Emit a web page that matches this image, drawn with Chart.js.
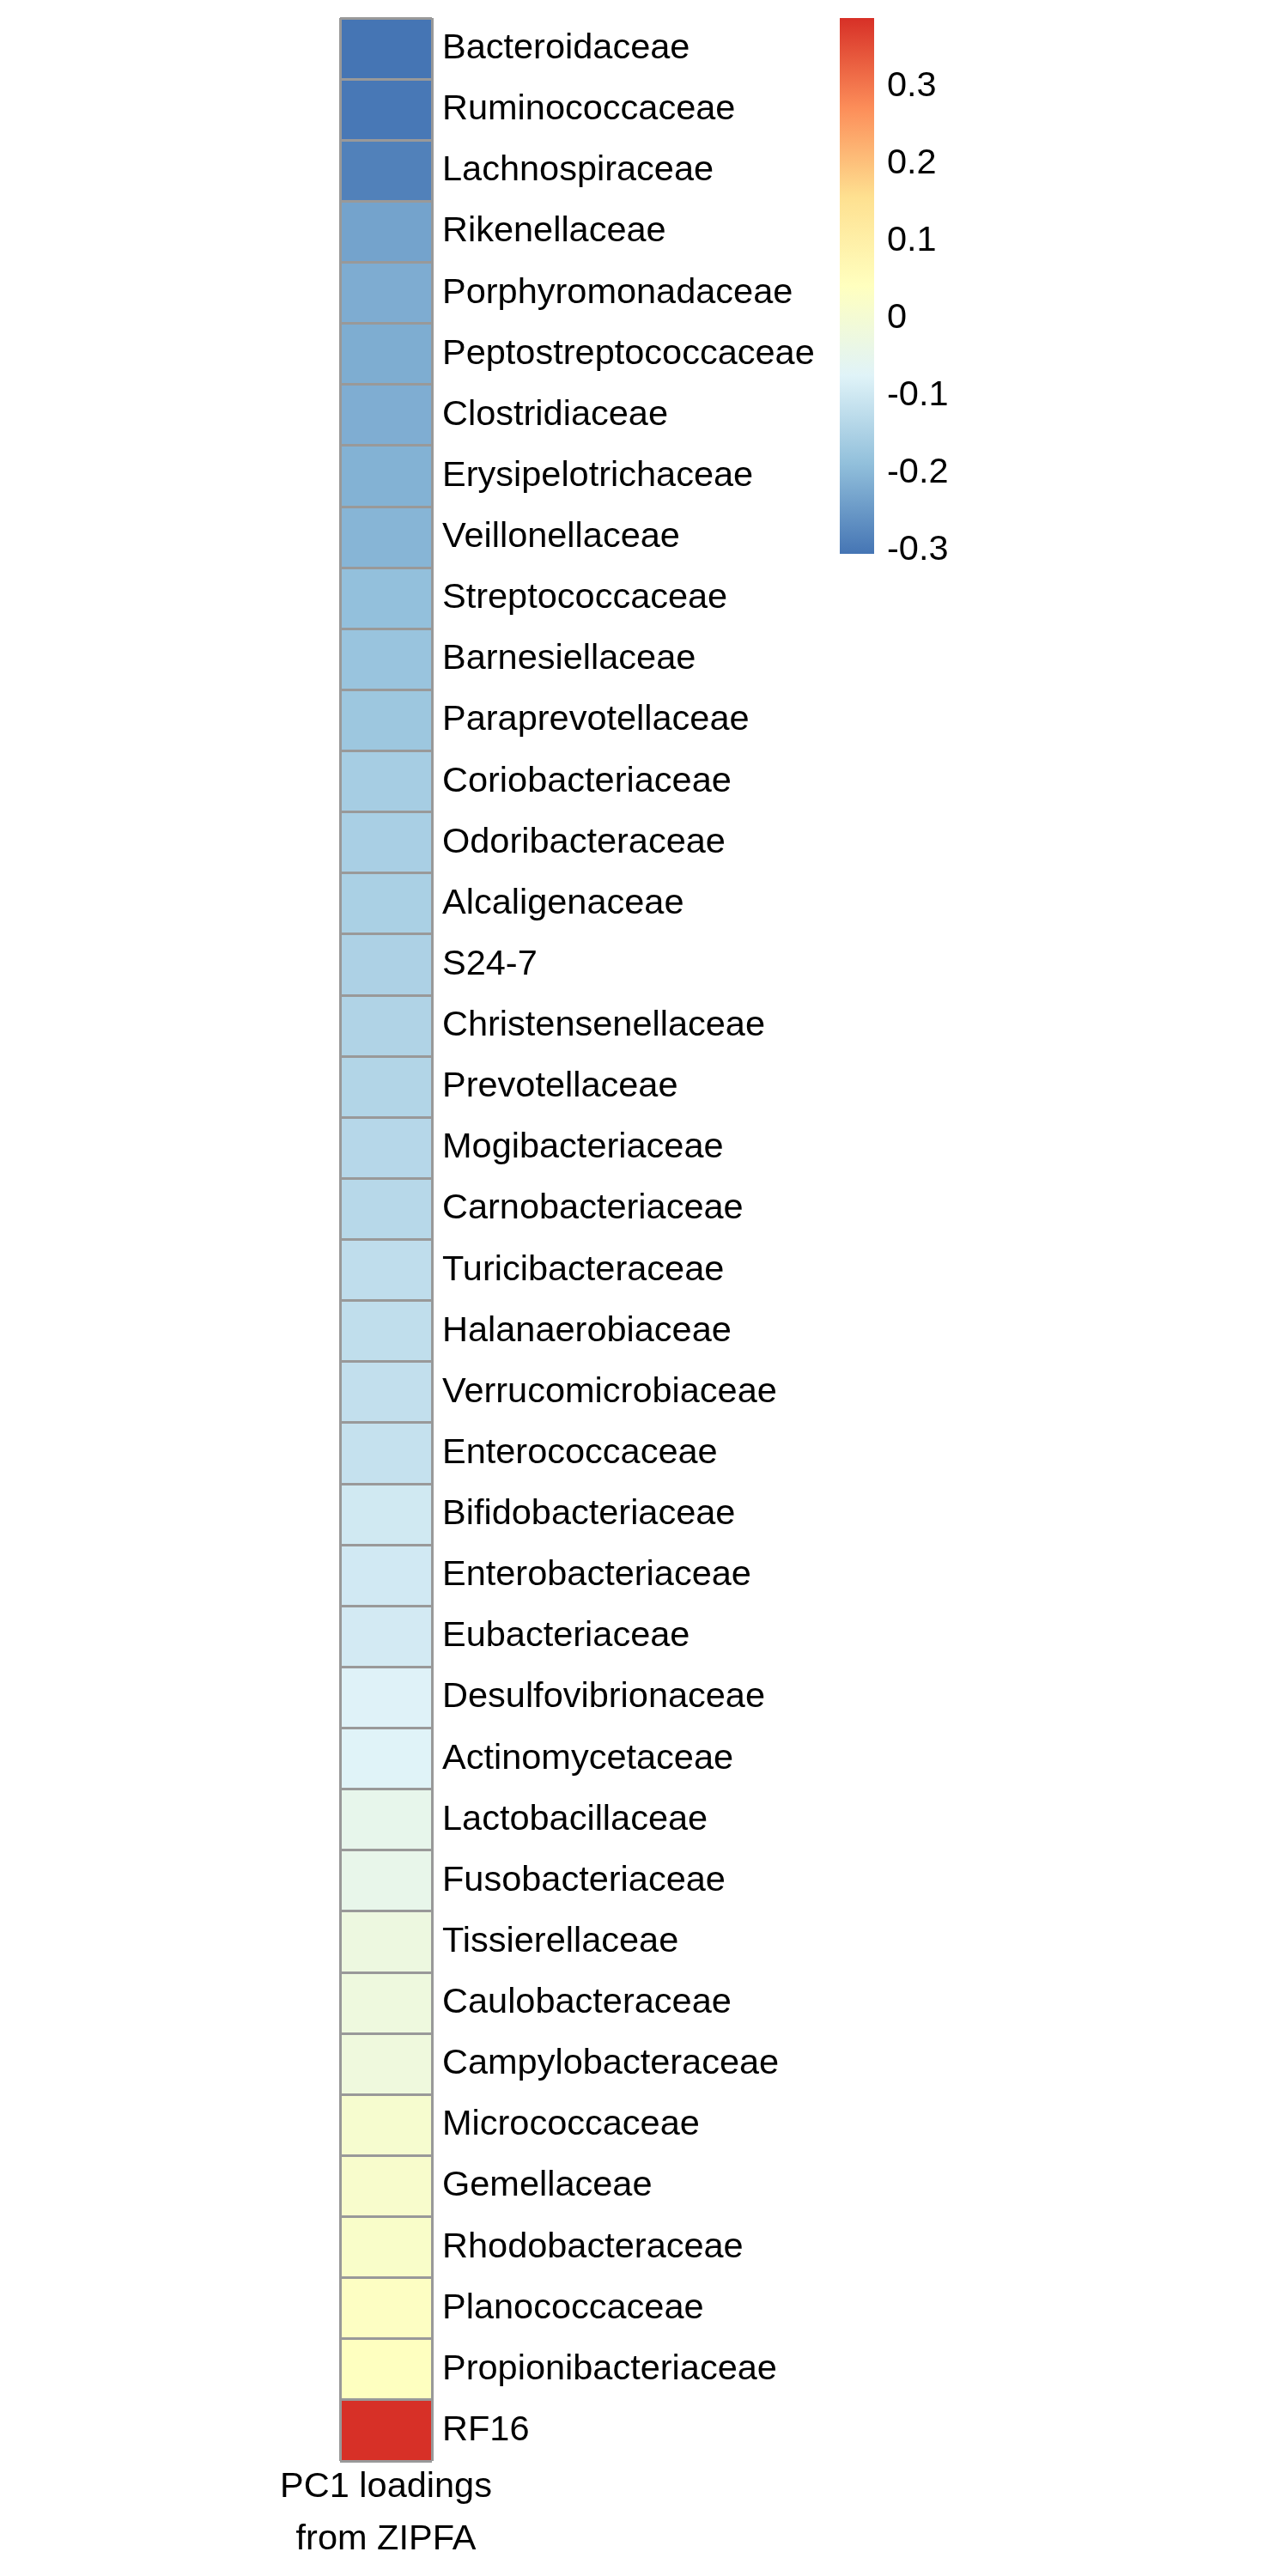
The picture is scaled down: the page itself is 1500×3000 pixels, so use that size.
<!DOCTYPE html>
<html lang="en">
<head>
    <meta charset="UTF-8">
    <title>PC1 loadings from ZIPFA</title>
    <script src="https://cdn.jsdelivr.net/npm/chart.js"></script>
    <style>
        body { margin: 0; background: #fff; width: 1500px; height: 3000px; position: relative; }
        #heatBox { position: absolute; left: 0; top: 0; }
        #legendBox { position: absolute; left: 900px; top: 0; }
    </style>
</head>
<body>
    <div id="heatBox"><canvas id="heatChart" width="1010" height="3000"></canvas></div>
    <div id="legendBox"><canvas id="legendChart" width="300" height="700"></canvas></div>

    <script>
        // families, top to bottom
        const families = [
            'Bacteroidaceae', 'Ruminococcaceae', 'Lachnospiraceae', 'Rikenellaceae',
            'Porphyromonadaceae', 'Peptostreptococcaceae', 'Clostridiaceae', 'Erysipelotrichaceae',
            'Veillonellaceae', 'Streptococcaceae', 'Barnesiellaceae', 'Paraprevotellaceae',
            'Coriobacteriaceae', 'Odoribacteraceae', 'Alcaligenaceae', 'S24-7',
            'Christensenellaceae', 'Prevotellaceae', 'Mogibacteriaceae', 'Carnobacteriaceae',
            'Turicibacteraceae', 'Halanaerobiaceae', 'Verrucomicrobiaceae', 'Enterococcaceae',
            'Bifidobacteriaceae', 'Enterobacteriaceae', 'Eubacteriaceae', 'Desulfovibrionaceae',
            'Actinomycetaceae', 'Lactobacillaceae', 'Fusobacteriaceae', 'Tissierellaceae',
            'Caulobacteraceae', 'Campylobacteraceae', 'Micrococcaceae', 'Gemellaceae',
            'Rhodobacteraceae', 'Planococcaceae', 'Propionibacteriaceae', 'RF16'
        ];

        // PC1 loadings
        const pc1Loadings = [
            -0.305, -0.300, -0.286, -0.233,
            -0.219, -0.218, -0.217, -0.210,
            -0.205, -0.186, -0.178, -0.172,
            -0.159, -0.154, -0.152, -0.149,
            -0.144, -0.141, -0.135, -0.133,
            -0.122, -0.120, -0.118, -0.113,
            -0.097, -0.095, -0.093, -0.075,
            -0.074, -0.047, -0.045, -0.025,
            -0.020, -0.019, 0.009, 0.016,
            0.021, 0.034, 0.040, 0.389
        ];

        const legendTicks = [-0.3, -0.2, -0.1, 0, 0.1, 0.2, 0.3];
        const titleLines = ['PC1 loadings', 'from ZIPFA'];

        // rev(RdYlBu, 7)
        const palette = ['#4575B4', '#91BFDB', '#E0F3F8', '#FFFFBF', '#FEE090', '#FC8D59', '#D73027'];

        const fontFamily = '"Liberation Sans", Arial, sans-serif';
        const fontSize = 41.5;
        const dataMin = Math.min(...pc1Loadings);
        const dataMax = Math.max(...pc1Loadings);

        function hexToRgb(h) {
            return [parseInt(h.slice(1, 3), 16), parseInt(h.slice(3, 5), 16), parseInt(h.slice(5, 7), 16)];
        }

        function colorFor(v) {
            let t = (v - dataMin) / (dataMax - dataMin);
            t = Math.max(0, Math.min(1, t));
            const pos = t * (palette.length - 1);
            const i = Math.min(Math.floor(pos), palette.length - 2);
            const f = pos - i;
            const a = hexToRgb(palette[i]);
            const b = hexToRgb(palette[i + 1]);
            const c = a.map((x, k) => Math.round(x + (b[k] - x) * f));
            return `rgb(${c[0]}, ${c[1]}, ${c[2]})`;
        }

        // no extra room for the first/last tick label
        function noLabelPadding(scale) {
            scale.paddingTop = 0;
            scale.paddingBottom = 0;
        }

        Chart.defaults.font.family = fontFamily;
        Chart.defaults.color = '#000';

        // title under the column, centred on it (axis title would be squeezed to the column width)
        const columnTitle = {
            id: 'columnTitle',
            afterDraw(chart) {
                const { ctx, chartArea } = chart;
                const cx = (chartArea.left + chartArea.right) / 2;
                ctx.save();
                ctx.font = `${fontSize}px ${fontFamily}`;
                ctx.fillStyle = '#000';
                ctx.textAlign = 'center';
                ctx.textBaseline = 'middle';
                titleLines.forEach((line, i) => {
                    ctx.fillText(line, cx, chartArea.bottom + 31 + i * 61);
                });
                ctx.restore();
            }
        };

        // heatmap column
        const heatChart = new Chart(document.getElementById('heatChart').getContext('2d'), {
            type: 'bar',
            data: {
                labels: families,
                datasets: [{
                    data: pc1Loadings.map(() => [0, 1]),
                    backgroundColor: pc1Loadings.map(colorFor),
                    borderWidth: 0,
                    barPercentage: 1,
                    categoryPercentage: 1
                }]
            },
            options: {
                indexAxis: 'y',
                responsive: false,
                animation: false,
                layout: { padding: { left: 396, top: 21, right: 0, bottom: 0 } },
                plugins: { legend: { display: false }, tooltip: { enabled: false } },
                scales: {
                    y: {
                        position: 'right',
                        grid: { color: '#999999', lineWidth: 3, drawTicks: false, offset: true, z: 1 },
                        border: { display: false },
                        ticks: { font: { size: fontSize }, color: '#000', padding: 12 },
                        afterFit: (scale) => { scale.width = 507; noLabelPadding(scale); }
                    },
                    x: {
                        min: 0,
                        max: 1,
                        grid: { color: '#999999', lineWidth: 3, drawTicks: false, z: 1 },
                        border: { display: false },
                        ticks: { display: false, stepSize: 1 },
                        afterFit: (scale) => { scale.height = 134; }
                    }
                }
            },
            plugins: [columnTitle]
        });

        // colour key
        const legendChart = new Chart(document.getElementById('legendChart').getContext('2d'), {
            type: 'bar',
            data: {
                labels: [''],
                datasets: [{
                    data: [[dataMin, dataMax]],
                    backgroundColor: (ctx) => {
                        const chart = ctx.chart;
                        if (!chart.chartArea) return palette[0];
                        const y = chart.scales.y;
                        const grad = chart.ctx.createLinearGradient(0, y.getPixelForValue(dataMin), 0, y.getPixelForValue(dataMax));
                        palette.forEach((c, i) => grad.addColorStop(i / (palette.length - 1), c));
                        return grad;
                    },
                    borderWidth: 0,
                    barPercentage: 1,
                    categoryPercentage: 1
                }]
            },
            options: {
                responsive: false,
                animation: false,
                layout: { padding: { left: 78, top: 21, right: 0, bottom: 55 } },
                plugins: { legend: { display: false }, tooltip: { enabled: false } },
                scales: {
                    x: { display: false },
                    y: {
                        position: 'right',
                        min: dataMin,
                        max: dataMax,
                        grid: { display: false, drawTicks: false },
                        border: { display: false },
                        ticks: {
                            font: { size: fontSize },
                            color: '#000',
                            padding: 15,
                            callback: (v) => String(v)
                        },
                        afterBuildTicks: (scale) => { scale.ticks = legendTicks.map(v => ({ value: v })); },
                        afterFit: (scale) => { scale.width = 182; noLabelPadding(scale); }
                    }
                }
            }
        });
    </script>
</body>
</html>
